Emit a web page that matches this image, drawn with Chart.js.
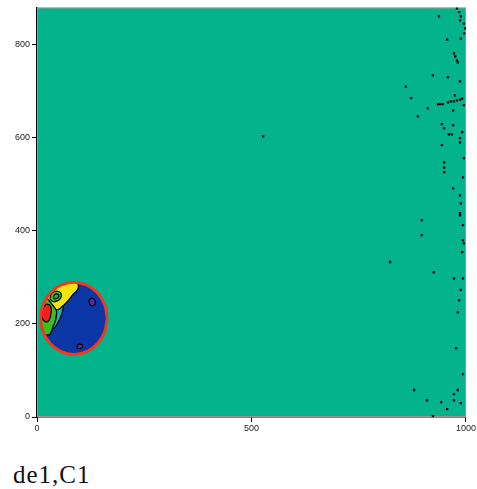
<!DOCTYPE html>
<html>
<head>
<meta charset="utf-8">
<script src="https://cdn.jsdelivr.net/npm/chart.js@4.4.1/dist/chart.umd.min.js"></script>
<style>
  html, body { margin: 0; padding: 0; background: #fff; }
  #wrap { position: relative; width: 477px; height: 489px; }
  #caption { position: absolute; left: 13px; top: 462px; font: 25px "Liberation Serif", "DejaVu Serif", serif; line-height: 1; letter-spacing: 1px; color: #111; }
</style>
</head>
<body>
<div id="wrap">
  <canvas id="map" width="477" height="440"></canvas>
  <div id="caption">de1,C1</div>
</div>
<script>
// axis ticks
const xTicks = [0, 500, 1000];
const yTicks = [0, 200, 400, 600, 800];

// extent of the map
const fieldX = [0, 1000];
const fieldY = [0, 880];

// circle outline
const circle = [[163.5,212],[157.6,241.7],[140.8,266.8],[115.7,283.6],[86,289.5],[56.3,283.6],[31.2,266.8],[14.4,241.7],
  [8.5,212],[14.4,182.3],[31.2,157.2],[56.3,140.4],[86,134.5],[115.7,140.4],[140.8,157.2],[157.6,182.3],[163.5,212]];

// contour regions inside the circle
const yellowZone = [[94,289],[86,289.5],[72.5,288.3],[56.3,283.6],[47.3,279.1],[31.2,266.8],[22.5,256.5],
  [30,248],[38,238],[45,230],[53.6,232.5],[59.8,238.2],[67.6,245],[75.4,253],[83.1,262.5],[92.5,271],[96.3,278],[95.6,286],[94,289]];
const greenOval = [[30.3,254],[32.6,264],[40.4,269.7],[50.5,269.7],[56.7,264],[55.2,255.4],[47.4,249.6],[36.5,248.2],[30.3,254]];
const greenInner = [[38,257],[41,263],[48,264],[51,259],[46,254.5],[40,254],[38,257]];
const greenBand = [[22.5,256.5],[14.4,241.7],[11.1,232.1],[8.5,212],[11.1,191.9],[14.4,182.3],[17,178],[28.7,176.7],
  [36.5,191],[41.2,201.7],[44.3,212.4],[45.8,223.2],[45,230],[38,238],[30,248],[22.5,256.5]];
const cyanBand = [[45,230],[53.6,232.5],[59.8,238.2],[61,233],[58.3,223.2],[52.1,208.9],[45.8,198.1],[40.4,191],
  [36.5,191],[41.2,201.7],[44.3,212.4],[45.8,223.2],[45,230]];
const redBlob = [[16.3,237.5],[22.5,242.5],[30.3,239.6],[33.4,230.3],[31.9,218.2],[27.2,206.7],[19.4,205],[12,212],[10.5,225],[16.3,237.5]];
const purpleSpot1 = [[121,250],[127,255],[134,252],[136,245],[131,239],[124,241],[121,250]];
const purpleSpot2 = [[93,152],[98,156.5],[105,155],[106,150],[100,147],[94,148],[93,152]];

// black speckles near the right edge
const speckles = [[979,878],[984,870],[988,861],[986,852],[937,861],[995,845],[998,835],[996,824],[956,811],[988,813],
  [972,781],[975,775],[979,766],[981,762],[923,734],[958,730],[986,721],[860,710],[872,685],[974,691],
  [935,672],[940,672],[946,672],[958,676],[965,678],[972,678],[979,680],[986,682],[991,684],[995,670],
  [911,663],[970,659],[888,646],[944,629],[970,627],[949,620],[960,607],[967,607],[991,612],[986,599],
  [986,590],[944,584],[949,547],[949,536],[949,526],[995,556],[993,515],[970,491],[986,476],[988,459],
  [986,438],[986,433],[897,423],[993,412],[897,391],[993,380],[995,373],[991,354],[823,333],[925,311],
  [972,298],[993,298],[988,273],[984,251],[981,225],[977,148],[993,92],[879,58],[981,58],[972,49],
  [909,36],[942,32],[972,36],[988,30],[956,17],[923,2],[527,603]];

const pts = arr => arr.map(p => ({x: p[0], y: p[1]}));

function region(arr, fillColor, order, extra) {
  return Object.assign({
    data: pts(arr),
    fill: 'shape',
    backgroundColor: fillColor,
    borderColor: '#000',
    borderWidth: 1.2,
    pointRadius: 0,
    tension: 0.35,
    order: order
  }, extra || {});
}

const field = [[fieldX[0], fieldY[0]], [fieldX[1], fieldY[0]], [fieldX[1], fieldY[1]], [fieldX[0], fieldY[1]], [fieldX[0], fieldY[0]]];

const datasets = [
  region(field, '#02b38b', 20, {borderColor: '#999', borderWidth: 2, tension: 0}),
  region(circle, '#0a36a6', 19, {borderWidth: 0, tension: 0.4}),
  region(yellowZone, '#f2e411', 18),
  region(greenBand, '#35c21c', 17),
  region(cyanBand, '#1fb2a0', 16),
  region(redBlob, '#f0201a', 15),
  region(greenOval, '#35c21c', 14),
  region(greenInner, '#2aa866', 13),
  region(purpleSpot1, '#5b2b9c', 12),
  region(purpleSpot2, '#5b2b9c', 11),
  region(circle, 'rgba(0,0,0,0)', 2, {fill: false, borderColor: '#f4381c', borderWidth: 3, tension: 0.4}),
  {
    data: pts(speckles),
    showLine: false,
    pointStyle: 'rect',
    pointRadius: 1.6,
    pointBackgroundColor: '#000',
    pointBorderWidth: 0,
    order: 1
  }
];

const tickFont = {family: '"Liberation Sans", Arial, sans-serif', size: 9};

new Chart(document.getElementById('map').getContext('2d'), {
  type: 'line',
  data: {datasets: datasets},
  options: {
    responsive: false,
    animation: false,
    layout: {padding: {left: 7, top: 7, right: 11, bottom: 0}},
    plugins: {legend: {display: false}, tooltip: {enabled: false}},
    scales: {
      x: {
        type: 'linear',
        min: fieldX[0],
        max: fieldX[1],
        afterBuildTicks: s => { s.ticks = xTicks.map(v => ({value: v})); },
        afterFit: s => { s.height = 23; },
        grid: {drawOnChartArea: false, drawTicks: true, tickLength: 5, color: '#000'},
        border: {color: '#000', width: 1.5},
        ticks: {font: tickFont, color: '#222', padding: 1, maxRotation: 0, callback: v => String(v)}
      },
      y: {
        type: 'linear',
        min: fieldY[0],
        max: fieldY[1],
        afterBuildTicks: s => { s.ticks = yTicks.map(v => ({value: v})); },
        afterFit: s => { s.width = 30; },
        grid: {drawOnChartArea: false, drawTicks: true, tickLength: 5, color: '#000'},
        border: {color: '#000', width: 1.5},
        ticks: {font: tickFont, color: '#222', padding: 2, callback: v => String(v)}
      }
    }
  }
});
</script>
</body>
</html>
